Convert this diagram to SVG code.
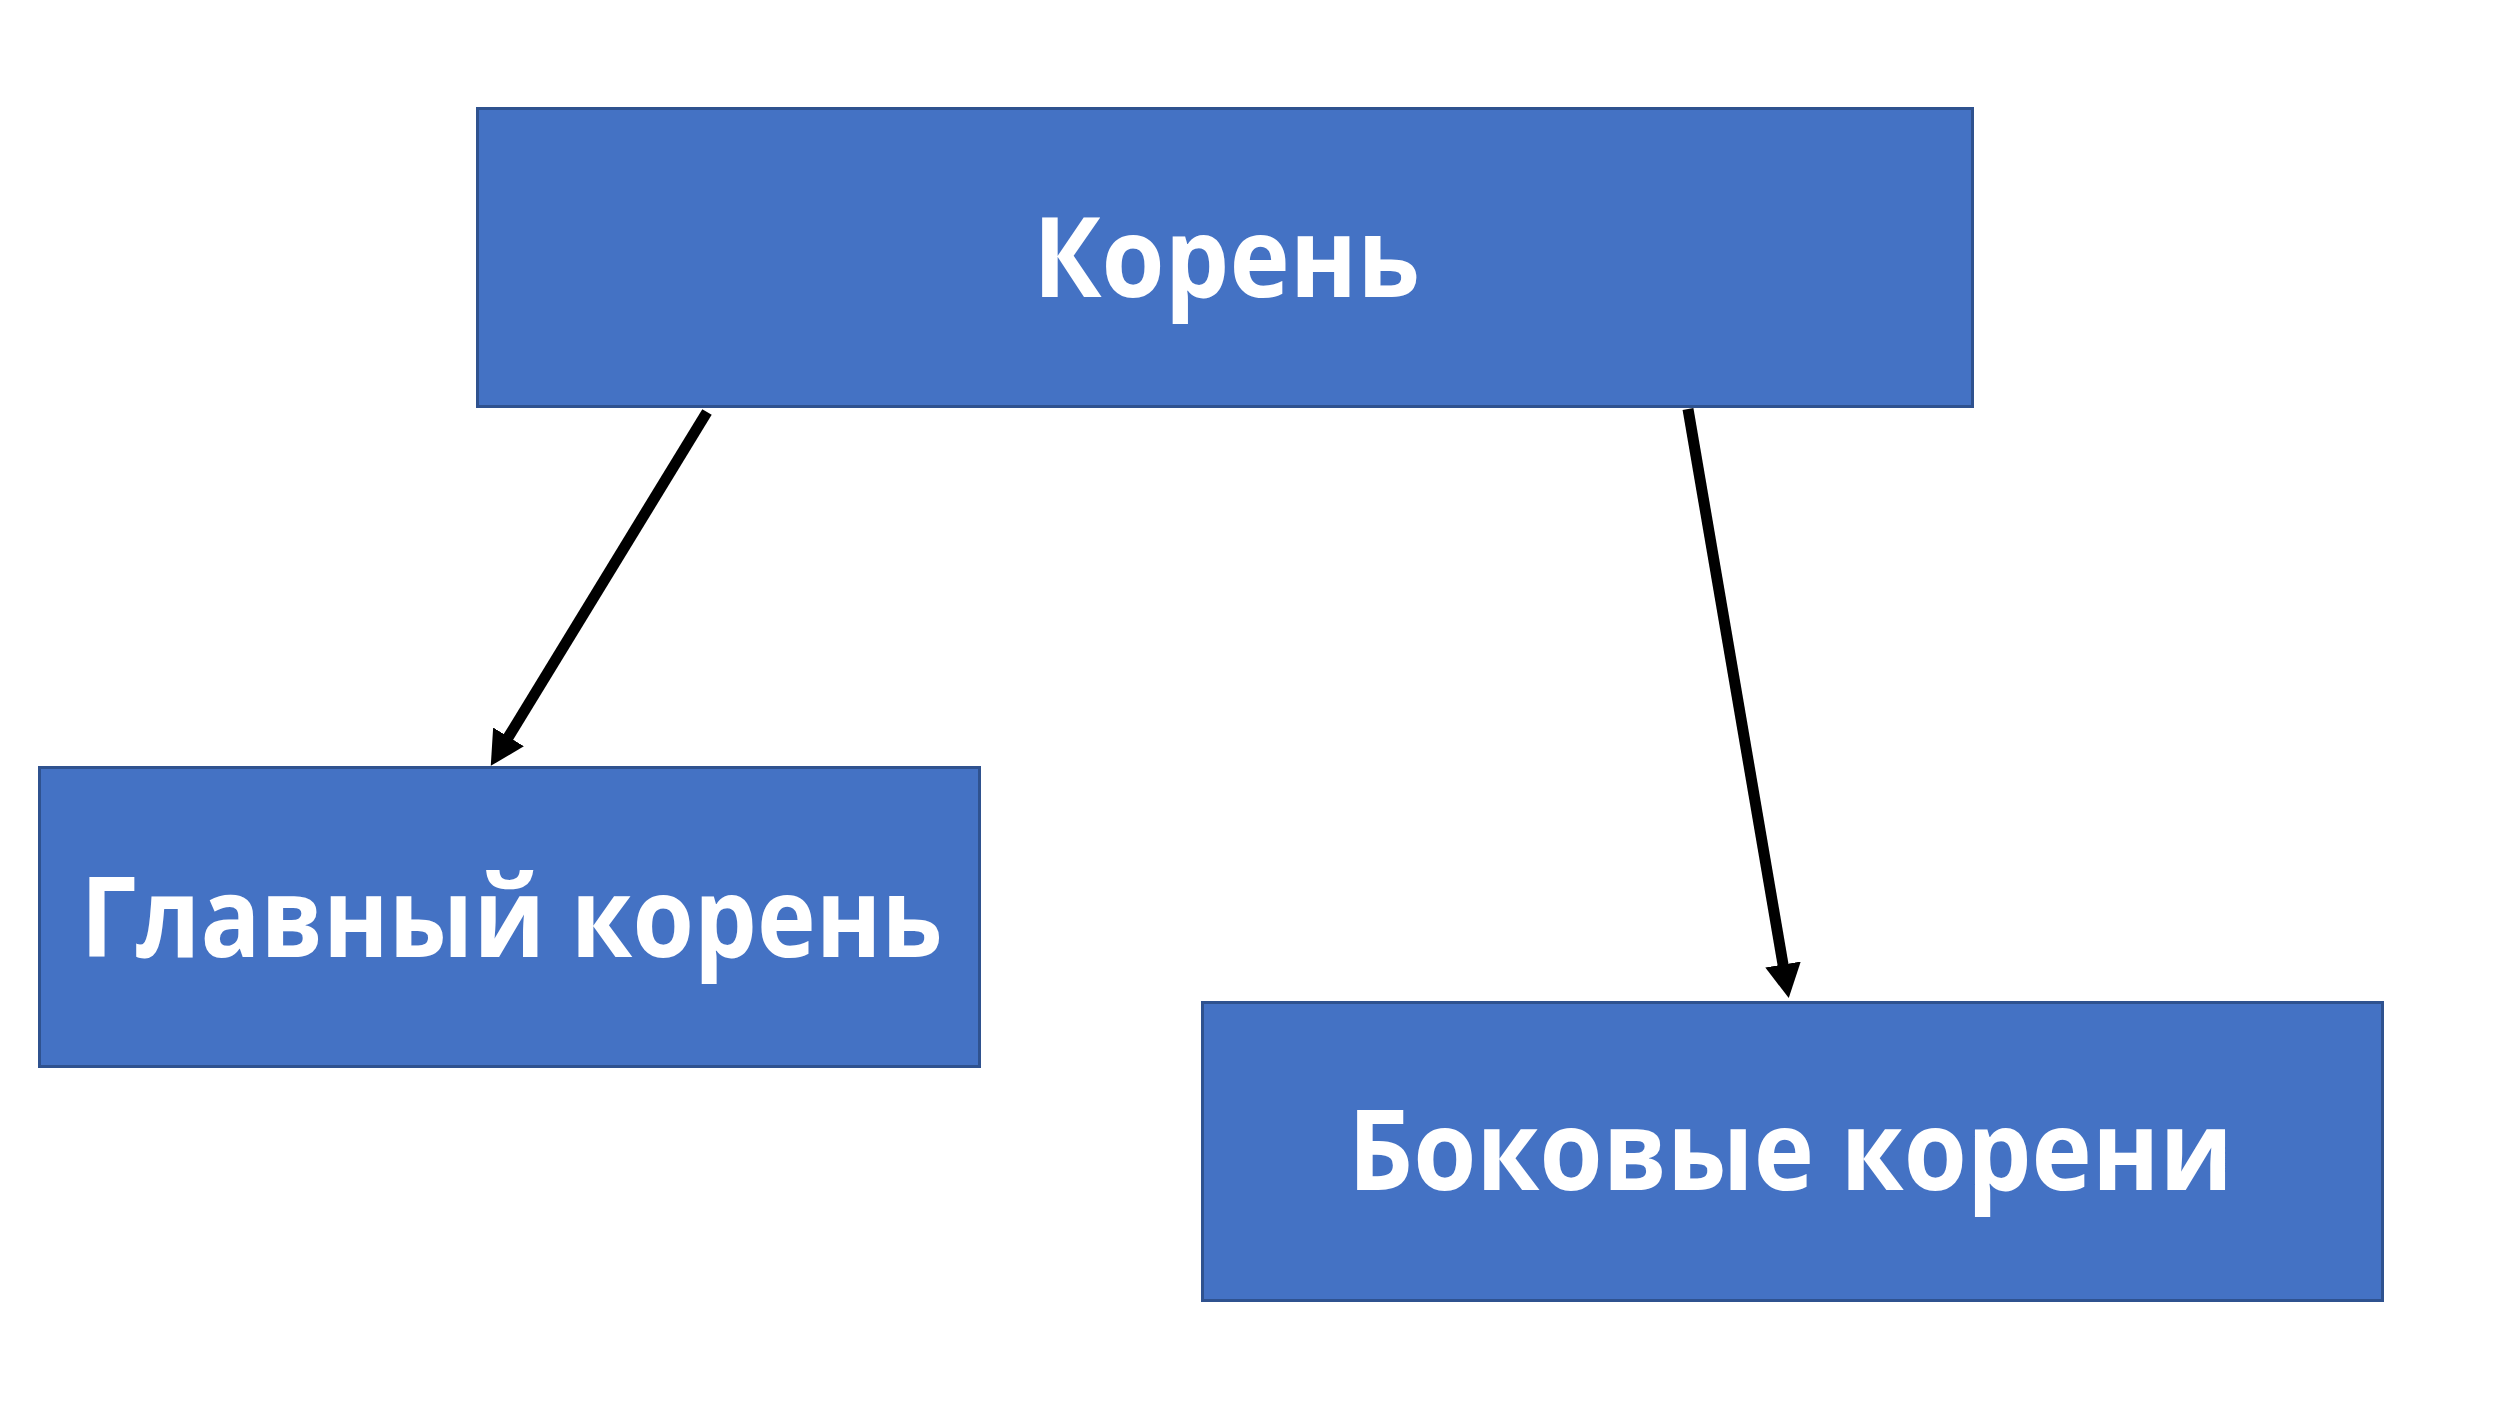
<svg xmlns="http://www.w3.org/2000/svg" width="2500" height="1406" viewBox="0 0 2500 1406">
  <style>
    .box { fill: #4472C4; stroke: #2F528F; stroke-width: 3; }
    .lbl { fill: #FFFFFF; font-family: "Open Sans", "Noto Sans", "Liberation Sans", sans-serif; font-weight: bold; font-size: 112px; text-anchor: middle; }
    .edge { stroke: #000000; stroke-width: 11; fill: none; }
  </style>
  <defs>
    <marker id="ah" markerUnits="userSpaceOnUse" markerWidth="38" markerHeight="38" viewBox="0 -19 38 38" refX="1" refY="0" orient="auto">
      <path d="M0,-18 L34,0 L0,18 z" fill="#000000"/>
    </marker>
  </defs>
  <rect width="2500" height="1406" fill="#FFFFFF"/>
  <g id="connectors">
    <line class="edge" x1="707" y1="412" x2="508" y2="737.7" marker-end="url(#ah)"/>
    <line class="edge" x1="1688" y1="409" x2="1783.2" y2="965.5" marker-end="url(#ah)"/>
  </g>
  <g id="node-koren">
    <rect class="box" x="477.5" y="108.5" width="1495" height="298"/>
    <text class="lbl" x="1226.5" y="297" textLength="387" lengthAdjust="spacingAndGlyphs">Корень</text>
  </g>
  <g id="node-glavny">
    <rect class="box" x="39.5" y="767.5" width="940" height="299"/>
    <text class="lbl" x="511.5" y="957" textLength="862" lengthAdjust="spacingAndGlyphs">Главный корень</text>
  </g>
  <g id="node-bokovye">
    <rect class="box" x="1202.5" y="1002.5" width="1180" height="298"/>
    <text class="lbl" x="1790.5" y="1190" textLength="885" lengthAdjust="spacingAndGlyphs">Боковые корени</text>
  </g>
</svg>
